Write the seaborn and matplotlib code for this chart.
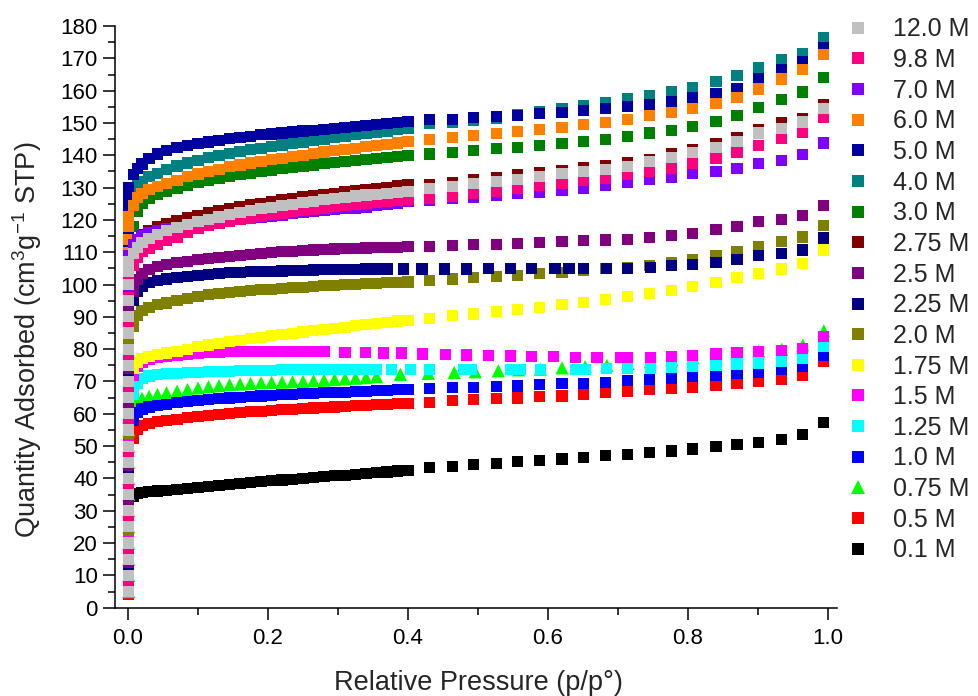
"""
plot.py - N2 adsorption isotherms vs. activation concentration.
Dense low-pressure branch + sparse high-pressure points, Origin-like look.
"""

import pandas as pd
import matplotlib
matplotlib.use("Agg")
import matplotlib.pyplot as plt
import matplotlib.ticker as mticker
from matplotlib.lines import Line2D
import seaborn as sns

sns.set_theme(style="ticks")
plt.rcParams.update({
    "font.family": ["Liberation Sans", "DejaVu Sans"],
    "mathtext.fontset": "custom",
    "mathtext.rm": "Liberation Sans",
    "mathtext.it": "Liberation Sans:italic",
    "axes.edgecolor": "black",
    "axes.linewidth": 1.1,
    "xtick.color": "black",
    "ytick.color": "black",
})

# ──────────────────────────────────────────────
# DATA
# ──────────────────────────────────────────────
CONC = ["0.1 M", "0.5 M", "0.75 M", "1.0 M", "1.25 M", "1.5 M", "1.75 M", "2.0 M",
        "2.25 M", "2.5 M", "2.75 M", "3.0 M", "4.0 M", "5.0 M", "6.0 M", "7.0 M",
        "9.8 M", "12.0 M"]
COLORS = ["#000000", "#ff0000", "#00ff00", "#0000ff", "#00ffff", "#ff00ff", "#ffff00",
          "#808000", "#000080", "#800080", "#800000", "#008000", "#008080", "#0000a0",
          "#ff8000", "#8000ff", "#ff0080", "#c0c0c0"]

P_ZERO = 0.001
P_DENSE = [0.008, 0.013, 0.02, 0.03, 0.042, 0.055, 0.07, 0.085, 0.10, 0.115, 0.13,
           0.145, 0.16, 0.175, 0.19, 0.205, 0.22, 0.235, 0.25, 0.265, 0.28, 0.295,
           0.31, 0.325, 0.34, 0.355, 0.37, 0.385, 0.40]
P_SPARSE = [0.431, 0.463, 0.494, 0.526, 0.557, 0.588, 0.620, 0.651, 0.682, 0.714,
            0.745, 0.777, 0.807, 0.840, 0.870, 0.901, 0.934, 0.964, 0.994]

# 0.1 M
LOW_01 = [4, 9, 14, 19, 24, 28, 31, 33]
DEN_01 = [34.5, 35.2, 35.6, 35.9, 36.1, 36.3, 36.6, 36.9, 37.2, 37.5, 37.8, 38.1, 38.4,
          38.7, 39.0, 39.3, 39.5, 39.8, 40.0, 40.3, 40.5, 40.8, 41.0, 41.3, 41.5, 41.8,
          42.0, 42.3, 42.5]
SPA_01 = [43.3, 43.6, 44.2, 44.7, 45.2, 45.5, 46.0, 46.6, 47.0, 47.5, 48.0, 48.5, 49.1,
          49.8, 50.4, 51.1, 52.1, 53.5, 57.4]
# 0.5 M
LOW_05 = [4, 9, 14, 19, 24, 29, 34, 39, 44, 48, 51]
DEN_05 = [52.5, 55.3, 56.5, 57.1, 57.5, 57.9, 58.3, 58.8, 59.2, 59.5, 59.8, 60.1, 60.3,
          60.6, 60.8, 61.0, 61.2, 61.4, 61.6, 61.8, 62.0, 62.1, 62.3, 62.5, 62.6, 62.8,
          62.9, 63.1, 63.2]
SPA_05 = [63.6, 64.0, 64.3, 64.6, 64.9, 65.3, 65.5, 65.9, 66.6, 66.9, 67.4, 67.7, 68.2,
          68.9, 69.3, 70.0, 70.7, 72.0, 76.2]
# 0.75 M
LOW_075 = [5, 10, 15, 20, 25, 30, 35, 40, 45, 50, 55, 59]
DEN_075 = [62.5, 64.0, 64.8, 65.4, 66.0, 66.5, 67.0, 67.5, 68.0, 68.4, 68.7, 69.0, 69.2,
           69.4, 69.6, 69.7, 69.8, 69.9, 70.0, 70.2, 70.4, 70.6, 70.8, 71.0, 71.2, 71.5]
PSP_075 = [0.389, 0.429, 0.466, 0.496, 0.529, 0.558, 0.589, 0.620, 0.653, 0.684, 0.714,
           0.746, 0.777, 0.807, 0.840, 0.870, 0.901, 0.934, 0.964, 0.994]
SPA_075 = [72.2, 72.5, 72.8, 73.0, 73.3, 73.6, 73.8, 74.2, 74.6, 75.0, 75.6, 76.1, 76.7,
           77.3, 78.0, 78.7, 79.4, 80.0, 81.3, 85.7]
# 1.0 M
LOW_10 = [6, 11, 16, 21, 26, 31, 36, 41, 46, 51, 55, 57]
DEN_10 = [58.0, 60.5, 61.5, 62.1, 62.6, 63.0, 63.4, 63.8, 64.1, 64.4, 64.7, 64.9, 65.1,
          65.3, 65.5, 65.7, 65.9, 66.0, 66.2, 66.3, 66.5, 66.6, 66.7, 66.9, 67.0, 67.1,
          67.2, 67.4, 67.5]
SPA_10 = [67.7, 68.1, 68.2, 68.4, 68.6, 69.2, 69.3, 69.5, 69.8, 70.2, 70.7, 71.0, 71.5,
          72.0, 72.4, 72.8, 73.6, 74.6, 78.0]
# 1.25 M
LOW_125 = [5, 10, 15, 20, 25, 30, 35, 40, 45, 50, 55, 60, 64]
DEN_125 = [66.0, 69.5, 71.0, 71.7, 72.1, 72.4, 72.6, 72.7, 72.9, 73.0, 73.1, 73.2, 73.3,
           73.4, 73.5, 73.5, 73.6, 73.6, 73.7, 73.7, 73.7, 73.8, 73.8, 73.8, 73.8, 73.8]
PSP_125 = [0.377, 0.404, 0.431, 0.479, 0.491, 0.546, 0.56, 0.589, 0.639, 0.653, 0.683,
           0.714, 0.746, 0.777, 0.807, 0.840, 0.870, 0.901, 0.934, 0.964, 0.994]
SPA_125 = [73.8, 73.8, 73.8, 73.8, 73.8, 73.8, 73.8, 73.8, 73.8, 73.8, 73.9, 74.1, 74.1,
           74.4, 74.8, 75.1, 75.4, 75.7, 76.2, 77.0, 80.8]
# 1.5 M
LOW_15 = [6, 11, 16, 21, 26, 31, 36, 41, 46, 51, 56, 61, 66, 70]
DEN_15 = [72.0, 74.5, 75.8, 76.7, 77.3, 77.8, 78.2, 78.5, 78.8, 79.0, 79.1, 79.2, 79.3,
          79.3, 79.4, 79.4, 79.4, 79.4, 79.4, 79.4, 79.4]
PSP_15 = [0.31, 0.339, 0.365, 0.391, 0.421, 0.453, 0.483, 0.515, 0.546, 0.576, 0.608,
          0.639, 0.67, 0.703, 0.714, 0.746, 0.777, 0.807, 0.840, 0.870, 0.901, 0.934,
          0.964, 0.994]
SPA_15 = [79.1, 79.1, 78.8, 78.8, 78.5, 78.3, 78.2, 78.0, 77.9, 77.7, 77.6, 77.5, 77.5,
          77.4, 77.5, 77.5, 77.7, 78.0, 78.5, 78.9, 79.3, 79.6, 80.3, 83.9]
# 1.75 M
LOW_175 = [5, 10, 15, 20, 25, 30, 35, 40, 45, 50, 55, 60, 65, 70, 72]
DEN_175 = [74.0, 76.0, 77.0, 77.7, 78.3, 78.8, 79.4, 80.0, 80.7, 81.3, 81.8, 82.3, 82.8,
           83.3, 83.7, 84.1, 84.5, 84.9, 85.3, 85.7, 86.1, 86.5, 86.8, 87.2, 87.6, 87.9,
           88.3, 88.7, 89.0]
SPA_175 = [89.6, 90.3, 90.9, 91.6, 92.4, 93.0, 93.7, 94.5, 95.3, 96.3, 97.1, 98.1, 99.4,
           100.6, 102.2, 103.5, 104.8, 106.6, 110.7]
# 2.0 M
LOW_20 = [6, 12, 18, 24, 30, 36, 42, 48, 54, 60, 66, 72, 78, 83]
DEN_20 = [87.0, 90.5, 92.0, 93.0, 93.7, 94.3, 95.0, 95.8, 96.4, 96.8, 97.2, 97.5, 97.8,
          98.1, 98.4, 98.6, 98.8, 99.0, 99.2, 99.4, 99.6, 99.8, 99.9, 100.1, 100.2,
          100.4, 100.5, 100.7, 100.8]
SPA_20 = [101.2, 101.7, 102.2, 102.5, 102.9, 103.3, 103.7, 104.3, 104.9, 105.4, 105.9,
          106.7, 107.7, 109.0, 110.3, 111.9, 113.3, 114.7, 118.3]
# 2.25 M
LOW_225 = [7, 13, 19, 25, 31, 37, 43, 49, 55, 61, 67, 73, 79, 85, 90]
DEN_225 = [95.0, 98.0, 99.5, 100.5, 101.2, 101.7, 102.2, 102.6, 102.9, 103.2, 103.4,
           103.6, 103.8, 103.9, 104.0, 104.1, 104.2, 104.3, 104.4, 104.5, 104.6, 104.6,
           104.7, 104.7, 104.8, 104.8, 104.8]
PSP_225 = [0.393, 0.42, 0.452, 0.483, 0.515, 0.546, 0.577, 0.61, 0.63, 0.651, 0.683,
           0.714, 0.746, 0.777, 0.807, 0.840, 0.870, 0.901, 0.934, 0.964, 0.994]
SPA_225 = [104.8, 104.8, 104.8, 104.8, 104.9, 104.9, 104.9, 105.0, 105.0, 105.0, 105.0,
           105.1, 105.3, 105.8, 106.3, 106.9, 107.8, 108.9, 109.7, 110.7, 114.4]
# 2.5 M
LOW_25 = [8, 14, 20, 26, 32, 38, 44, 50, 56, 62, 68, 74, 80, 86, 92]
DEN_25 = [98.0, 101.5, 103.5, 104.7, 105.5, 106.1, 106.7, 107.2, 107.7, 108.1, 108.5,
          108.8, 109.1, 109.4, 109.7, 109.9, 110.1, 110.3, 110.5, 110.7, 110.9, 111.0,
          111.1, 111.2, 111.3, 111.4, 111.5, 111.6, 111.7]
SPA_25 = [111.8, 112.0, 112.3, 112.5, 112.8, 113.0, 113.3, 113.5, 113.8, 114.0, 114.6,
          115.2, 115.9, 116.9, 118.0, 119.5, 120.0, 121.3, 124.5]
# 2.75 M
LOW_275 = [7, 17, 27, 37, 47, 57, 67, 77, 87, 97, 104, 108]
DEN_275 = [111.0, 113.8, 115.5, 116.8, 117.8, 118.8, 119.8, 120.7, 121.5, 122.2, 122.9,
           123.5, 124.1, 124.7, 125.2, 125.7, 126.2, 126.7, 127.1, 127.5, 127.9, 128.3,
           128.7, 129.1, 129.4, 129.8, 130.1, 130.5, 130.8]
SPA_275 = [131.0, 131.7, 132.5, 133.2, 134.0, 134.6, 135.3, 136.1, 136.8, 137.9, 138.7,
           140.4, 141.8, 143.5, 145.5, 148.1, 150.0, 151.5, 155.8]
# 3.0 M
LOW_30 = [8, 18, 28, 38, 48, 58, 68, 78, 88, 98, 106, 111, 115]
DEN_30 = [118.0, 122.5, 125.0, 126.6, 127.8, 128.8, 129.8, 130.7, 131.5, 132.2, 132.9,
          133.5, 134.0, 134.5, 135.0, 135.4, 135.8, 136.2, 136.6, 137.0, 137.4, 137.7,
          138.0, 138.3, 138.7, 139.0, 139.3, 139.6, 139.9]
SPA_30 = [140.4, 140.9, 141.4, 142.0, 142.5, 143.0, 143.7, 144.3, 145.0, 145.8, 146.9,
          147.7, 148.9, 150.5, 152.2, 154.8, 157.4, 159.6, 164.2]
# 4.0 M
LOW_40 = [9, 19, 29, 39, 49, 59, 69, 79, 89, 99, 108, 114, 119, 123, 126]
DEN_40 = [128.0, 130.5, 132.0, 133.3, 134.5, 135.6, 136.7, 137.6, 138.4, 139.2, 139.9,
          140.5, 141.1, 141.7, 142.2, 142.7, 143.2, 143.7, 144.1, 144.6, 145.0, 145.5,
          145.9, 146.3, 146.7, 147.1, 147.5, 147.9, 148.3]
SPA_40 = [149.8, 150.2, 150.8, 151.4, 152.6, 153.6, 154.4, 155.4, 156.2, 157.5, 158.4,
          159.8, 161.0, 162.7, 164.6, 167.0, 169.6, 171.6, 176.3]
# 5.0 M
LOW_50 = [5, 15, 25, 35, 45, 55, 65, 75, 85, 95, 104, 111, 116, 120, 124, 127, 130]
DEN_50 = [134.0, 135.8, 137.3, 139.0, 140.4, 141.4, 142.3, 143.0, 143.6, 144.1, 144.6,
          145.1, 145.5, 145.9, 146.3, 146.6, 146.9, 147.2, 147.5, 147.8, 148.1, 148.4,
          148.7, 148.9, 149.2, 149.5, 149.8, 150.1, 150.4]
SPA_50 = [151.0, 151.2, 151.7, 152.0, 152.3, 152.8, 153.3, 153.9, 154.4, 155.1, 155.6,
          156.7, 157.9, 159.0, 160.8, 163.6, 166.5, 169.0, 173.4]
# 6.0 M
LOW_60 = [6, 16, 26, 36, 46, 56, 66, 76, 86, 96, 104, 110, 114, 118, 121]
DEN_60 = [124.5, 126.8, 128.2, 129.3, 130.3, 131.3, 132.3, 133.3, 134.2, 135.0, 135.7,
          136.4, 137.0, 137.6, 138.1, 138.6, 139.1, 139.6, 140.0, 140.5, 141.0, 141.4,
          141.8, 142.2, 142.6, 143.0, 143.4, 143.8, 144.2]
SPA_60 = [144.8, 145.5, 146.1, 146.7, 147.3, 147.9, 148.6, 149.4, 150.2, 151.2, 152.2,
          153.3, 154.6, 155.9, 157.9, 160.5, 163.6, 166.5, 171.1]
# 7.0 M
LOW_70 = [7, 17, 27, 37, 47, 57, 67, 77, 87, 97, 104, 109]
DEN_70 = [112.5, 114.0, 115.2, 116.0, 116.7, 117.2, 117.7, 118.2, 118.6, 119.0, 119.4,
          119.8, 120.2, 120.5, 120.9, 121.2, 121.5, 121.9, 122.2, 122.5, 122.8, 123.1,
          123.4, 123.7, 124.0, 124.4, 124.8, 125.2, 125.6]
SPA_70 = [126.0, 126.5, 127.1, 127.5, 128.3, 128.5, 129.1, 129.8, 130.7, 131.5, 132.4,
          133.2, 134.3, 135.0, 136.0, 137.4, 138.4, 140.2, 143.8]
# 9.8 M
LOW_98 = [8, 18, 28, 38, 48, 58, 68, 78, 88, 96, 101]
DEN_98 = [106.0, 108.5, 110.2, 111.3, 112.4, 113.5, 114.7, 116.0, 117.3, 118.2, 118.9,
          119.5, 120.1, 120.6, 121.1, 121.6, 122.1, 122.5, 122.9, 123.3, 123.7, 124.1,
          124.4, 124.8, 125.1, 125.4, 125.7, 126.0, 126.3]
SPA_98 = [126.7, 127.2, 128.3, 128.8, 129.8, 130.6, 131.4, 132.2, 132.9, 134.0, 135.0,
          136.0, 137.6, 139.1, 141.0, 143.0, 145.3, 147.2, 151.8]
# 12.0 M
LOW_120 = [5, 10, 15, 20, 25, 30, 35, 40, 45, 50, 55, 60, 65, 70, 75, 80, 85, 90, 95,
           100, 104, 107]
DEN_120 = [109.5, 111.5, 113.0, 114.3, 115.5, 116.6, 117.6, 118.6, 119.5, 120.2, 120.9,
           121.6, 122.2, 122.8, 123.4, 123.9, 124.4, 124.9, 125.4, 125.8, 126.2, 126.6,
           127.0, 127.4, 127.7, 128.0, 128.3, 128.6, 128.9]
SPA_120 = [129.6, 130.3, 131.2, 131.9, 132.6, 133.4, 134.3, 135.0, 135.7, 136.5, 138.1,
           139.4, 140.9, 142.4, 144.3, 146.9, 148.4, 150.3, 154.6]


def build_frame():
    series = [
        (LOW_01, DEN_01, P_SPARSE, SPA_01),
        (LOW_05, DEN_05, P_SPARSE, SPA_05),
        (LOW_075, DEN_075, PSP_075, SPA_075),
        (LOW_10, DEN_10, P_SPARSE, SPA_10),
        (LOW_125, DEN_125, PSP_125, SPA_125),
        (LOW_15, DEN_15, PSP_15, SPA_15),
        (LOW_175, DEN_175, P_SPARSE, SPA_175),
        (LOW_20, DEN_20, P_SPARSE, SPA_20),
        (LOW_225, DEN_225, PSP_225, SPA_225),
        (LOW_25, DEN_25, P_SPARSE, SPA_25),
        (LOW_275, DEN_275, P_SPARSE, SPA_275),
        (LOW_30, DEN_30, P_SPARSE, SPA_30),
        (LOW_40, DEN_40, P_SPARSE, SPA_40),
        (LOW_50, DEN_50, P_SPARSE, SPA_50),
        (LOW_60, DEN_60, P_SPARSE, SPA_60),
        (LOW_70, DEN_70, P_SPARSE, SPA_70),
        (LOW_98, DEN_98, P_SPARSE, SPA_98),
        (LOW_120, DEN_120, P_SPARSE, SPA_120),
    ]
    rows = []
    for label, (low, dense, psp, sparse) in zip(CONC, series, strict=True):
        rows += [(P_ZERO, q, label) for q in low]
        rows += [(p, q, label) for p, q in zip(P_DENSE[:len(dense)], dense, strict=True)]
        rows += [(p, q, label) for p, q in zip(psp, sparse, strict=True)]
    # rows are in drawing order: low concentrations first, 12.0 M on top
    return pd.DataFrame(rows, columns=["p", "q", "conc"])


def main():
    df = build_frame()
    palette = dict(zip(CONC, COLORS))
    markers = {c: ("^" if c == "0.75 M" else "s") for c in CONC}
    sizes = {c: (90 if c == "0.75 M" else 64) for c in CONC}

    fig = plt.figure(figsize=(9.79, 6.96), dpi=100)
    ax = fig.add_axes([0.1175, 0.1269, 0.7375, 0.8357])

    sns.scatterplot(data=df, x="p", y="q", hue="conc", style="conc", size="conc",
                    palette=palette, markers=markers, sizes=sizes, linewidth=0,
                    legend=False, ax=ax)

    ax.set_xlim(-0.0186, 1.0129)
    ax.set_ylim(0, 180)
    sns.despine(ax=ax)
    ax.xaxis.set_major_locator(mticker.MultipleLocator(0.2))
    ax.xaxis.set_minor_locator(mticker.MultipleLocator(0.1))
    ax.yaxis.set_major_locator(mticker.MultipleLocator(10))
    ax.yaxis.set_minor_locator(mticker.MultipleLocator(5))
    ax.xaxis.set_major_formatter(mticker.FormatStrFormatter("%.1f"))
    ax.tick_params(which="major", direction="out", length=8.4, width=1.1,
                   labelsize=16, pad=4, color="black")
    ax.tick_params(which="minor", direction="out", length=4.8, width=1.1, color="black")
    ax.tick_params(axis="x", which="major", pad=6)

    ax.set_xlabel("Relative Pressure (p/p°)", fontsize=19.5)
    ax.set_ylabel(r"Quantity Adsorbed (cm$^{3}$g$^{-1}$ STP)", fontsize=19.5)
    ax.xaxis.set_label_coords(0.503, -0.108)
    ax.yaxis.set_label_coords(-0.099, 0.46)

    handles = [Line2D([], [], ls="none", marker=markers[c], color=palette[c],
                      markersize=(9.5 if c == "0.75 M" else 8), markeredgewidth=0)
               for c in reversed(CONC)]
    fig.legend(handles, list(reversed(CONC)), loc="upper left",
               bbox_to_anchor=(0.866, 0.975), frameon=False, fontsize=18,
               handlelength=0.8, handletextpad=1.0, labelspacing=0.266,
               borderpad=0, borderaxespad=0)

    fig.savefig("out.png", dpi=100)
    plt.close(fig)


if __name__ == "__main__":
    main()
